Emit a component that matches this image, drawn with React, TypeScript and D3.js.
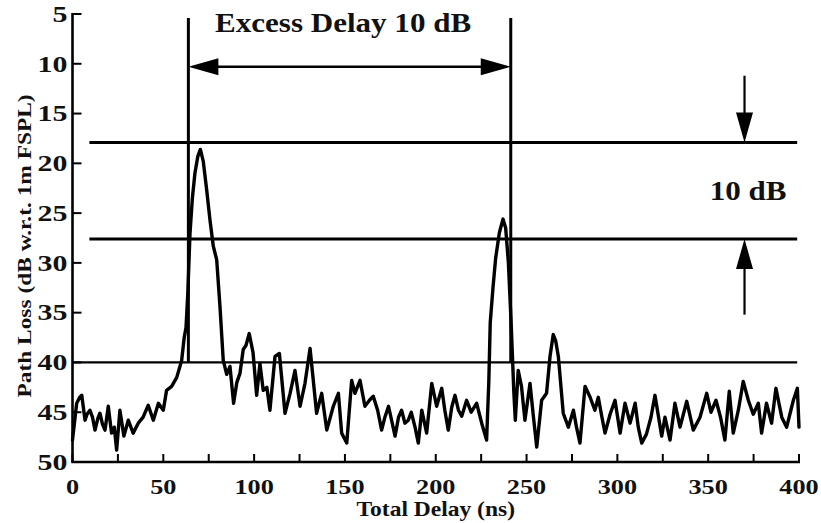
import React from "react";
import * as d3 from "d3";

const delays = [
  0, 2.3, 4, 5.1, 6.9, 8, 9.6, 11, 12.4, 14, 15.1, 16.5, 17.9, 19.7, 21.5, 23, 24.3, 26.1, 28.3, 30.7,
  33.4, 36.2, 38.9, 41.7, 44.5, 47.3, 50, 51.8, 54.6, 57.4, 60.1, 61.5, 62.5, 63.5, 64.7, 66, 67.4, 69,
  70.4, 72, 73.9, 75.7, 77.5, 79.4, 81.2, 83, 84.9, 86.7, 88.7, 90.5, 92.2, 94, 95.5, 97.3, 99.4, 101.4,
  103.2, 105, 107, 108.7, 111.5, 113.9, 117, 119.8, 122.5, 125.3, 128, 130.8, 134.4, 137.2, 140, 143.6,
  146.4, 148.2, 151, 153.7, 155.5, 158.3, 161, 163.5, 165.6, 168, 170.2, 172, 174, 177.6, 179.5, 181.2,
  183, 184.9, 186.5, 188.6, 190.4, 192.3, 195, 197.8, 200.5, 203.3, 205, 206.9, 208.8, 210.6, 212.5,
  214.3, 217, 219.5, 222.5, 225.3, 228, 229.2, 230, 231.5, 233, 235, 237, 238.5, 240, 241.5, 243, 243.8,
  245.4, 247.2, 249.1, 251.9, 253.8, 255.6, 258.3, 261, 262.9, 264.7, 266, 267.5, 270.2, 273, 275.8,
  277.5, 279.4, 282.2, 285, 287.6, 289.5, 291.5, 293.2, 296, 298.7, 301.5, 304.2, 307, 309.8, 311.5,
  313.4, 316, 318.5, 320.7, 324.4, 326.2, 329, 331.7, 334.5, 338.2, 341.8, 345.5, 349.2, 351.5, 354.3,
  356.8, 359.2, 361.6, 363.8, 366.6, 369.3, 372.1, 374.8, 377.6, 379.4, 382.1, 384.9, 387.3, 390.5,
  393.2, 396.9, 399.1, 400,
];
const pathLoss = [
  47.8, 44.1, 43.5, 43.3, 45.8, 45.2, 44.8, 45.5, 46.8, 45.6, 45.1, 46.2, 46.8, 44.4, 47.1, 46.5, 48.8,
  44.8, 47.4, 45.8, 47.1, 46.1, 45.5, 44.3, 45.8, 44.1, 44.8, 42.8, 42.4, 41.5, 39.8, 37.5, 36.5, 33,
  27, 23.5, 21, 19.3, 18.6, 19.8, 22.7, 25.7, 28.3, 29.7, 34.4, 39.8, 41.2, 40.4, 44.1, 42, 41.1, 38.7,
  38.3, 37.1, 39, 43.3, 40.1, 42.8, 42.5, 44.8, 39.4, 39.1, 45.1, 43.1, 40.8, 44.4, 42.1, 38.6, 45.1,
  43.1, 46.8, 44.4, 43.1, 47.1, 48.1, 41.8, 43.1, 41.8, 44.4, 43.8, 43.4, 44.8, 46.8, 45.5, 44.4, 47.4,
  45.5, 44.8, 46.1, 45.8, 45, 46.5, 48.1, 44.8, 47.1, 42.1, 44.4, 42.6, 44.8, 46.8, 44.5, 43.3, 44.8,
  45.4, 43.8, 45, 44.1, 46.1, 47.8, 42, 36, 32.5, 29.5, 27, 25.6, 26.5, 30, 36, 43, 45.8, 40.8, 42.4, 45.8,
  42.1, 45.5, 48.5, 43.8, 43.1, 39.4, 37.2, 37.8, 39.4, 45.1, 46.5, 44.8, 46.5, 48.1, 42.4, 43.5, 44.8,
  43.5, 45.5, 47.1, 45.2, 43.8, 47.1, 44.1, 46.1, 44.1, 46.5, 48.1, 47.2, 45.5, 43.3, 47.4, 45.5, 47.8,
  44.1, 46.5, 43.9, 46.8, 45.5, 43.1, 45, 43.8, 45.5, 47.8, 42.9, 47.1, 44.8, 41.9, 43.8, 45.2, 44.1,
  47.1, 44.1, 46.1, 42.6, 45.5, 46.5, 43.8, 42.6, 46.5,
];

const xTickValues = [0, 50, 100, 150, 200, 250, 300, 350, 400];
const xMinorTickValues = [0, 25, 50, 75, 100, 125, 150, 175, 200, 225, 250, 275, 300, 325, 350, 375, 400];
const yTickValues = [5, 10, 15, 20, 25, 30, 35, 40, 45, 50];

const peakLevel = 17.9;
const thresholdLevel = 27.6;
const noiseLevel = 40;
const thresholdLineStart = 9.3;
const lineEnd = 399;
const excessStart = 63.8;
const excessEnd = 241.3;
const markerTop = 5.4;
const excessArrowLevel = 10.3;
const dbArrowDelay = 370;
const dbArrowTop = 11.2;
const dbArrowBottom = 35.2;

const titleText = "Excess Delay 10 dB";
const dbText = "10 dB";
const xTitle = "Total Delay (ns)";
const yTitle = "Path Loss (dB w.r.t. 1m FSPL)";

export default function App() {
  const x = d3.scaleLinear().domain([0, 400]).range([72.5, 799]);
  const y = d3.scaleLinear().domain([5, 50]).range([14, 462]);
  const line = d3
    .line<number>()
    .x((_, i) => x(delays[i]))
    .y((d) => y(d));
  const font = "'Liberation Serif', 'Times New Roman', serif";

  const ah = 30; // arrowhead length
  const aw = 8.5; // arrowhead half width
  const ya = y(excessArrowLevel);
  const xl = x(excessStart);
  const xr = x(excessEnd);
  const xd = x(dbArrowDelay);
  const yUp = y(peakLevel);
  const yLow = y(thresholdLevel);

  return (
    <svg
      width={821}
      height={523}
      style={{ position: "absolute", left: 0, top: 0, background: "#fff" }}
      fontFamily={font}
      fontWeight="bold"
    >
      <rect width={821} height={523} fill="#fff" />
      {/* axes */}
      <line x1={x(0)} x2={x(0)} y1={y(5) - 1} y2={y(50)} stroke="#000" strokeWidth={2.6} />
      <line x1={x(0) - 1.3} x2={x(400) + 1} y1={y(50)} y2={y(50)} stroke="#000" strokeWidth={2.6} />
      {yTickValues.map((v) => (
        <g key={"y" + v}>
          <line x1={x(0)} x2={x(0) + 9} y1={y(v)} y2={y(v)} stroke="#000" strokeWidth={2} />
          <text
            transform={`translate(${x(0) - 5},${y(v)}) scale(1.3,1)`}
            textAnchor="end"
            dominantBaseline="central"
            fontSize={23}
            fill="#111"
          >
            {v}
          </text>
        </g>
      ))}
      {xMinorTickValues.map((v) => (
        <line key={"xm" + v} x1={x(v)} x2={x(v)} y1={y(50)} y2={y(50) - 8} stroke="#000" strokeWidth={2} />
      ))}
      {xTickValues.map((v) => (
        <text
          key={"x" + v}
          transform={`translate(${x(v)},${494}) scale(1.25,1)`}
          textAnchor="middle"
          fontSize={21}
          fill="#111"
        >
          {v}
        </text>
      ))}
      <text transform={`translate(${x(200)},516) scale(1.12,1)`} textAnchor="middle" fontSize={21} fill="#111">
        {xTitle}
      </text>
      <text
        transform={`translate(25,${y(28.3)}) rotate(-90) scale(1.3,1)`}
        textAnchor="middle"
        dominantBaseline="central"
        fontSize={18}
        fill="#111"
      >
        {yTitle}
      </text>

      {/* reference lines */}
      <line x1={x(thresholdLineStart)} x2={x(lineEnd)} y1={yUp} y2={yUp} stroke="#000" strokeWidth={3} />
      <line x1={x(thresholdLineStart)} x2={x(lineEnd)} y1={yLow} y2={yLow} stroke="#000" strokeWidth={3} />
      <line x1={x(0)} x2={x(lineEnd)} y1={y(noiseLevel)} y2={y(noiseLevel)} stroke="#000" strokeWidth={2.2} />
      <line x1={xl} x2={xl} y1={y(markerTop)} y2={y(noiseLevel)} stroke="#000" strokeWidth={3} />
      <line x1={xr} x2={xr} y1={y(markerTop)} y2={y(noiseLevel)} stroke="#000" strokeWidth={3} />

      {/* signal */}
      <path
        d={line(pathLoss) || ""}
        fill="none"
        stroke="#000"
        strokeWidth={3.4}
        strokeLinejoin="round"
        strokeLinecap="round"
      />

      {/* excess delay arrow */}
      <line x1={xl + ah - 2} x2={xr - ah + 2} y1={ya} y2={ya} stroke="#000" strokeWidth={2.4} />
      <path d={`M${xl},${ya} L${xl + ah},${ya - aw} L${xl + ah},${ya + aw} Z`} fill="#000" />
      <path d={`M${xr},${ya} L${xr - ah},${ya - aw} L${xr - ah},${ya + aw} Z`} fill="#000" />
      <text transform={`translate(${x(149)},32) scale(1.15,1)`} textAnchor="middle" fontSize={27} fill="#111">
        {titleText}
      </text>

      {/* 10 dB arrows */}
      <line x1={xd} x2={xd} y1={y(dbArrowTop)} y2={yUp - ah + 2} stroke="#000" strokeWidth={2.2} />
      <path d={`M${xd},${yUp} L${xd - aw},${yUp - ah} L${xd + aw},${yUp - ah} Z`} fill="#000" />
      <line x1={xd} x2={xd} y1={yLow + ah - 2} y2={y(dbArrowBottom)} stroke="#000" strokeWidth={2.2} />
      <path d={`M${xd},${yLow} L${xd - aw},${yLow + ah} L${xd + aw},${yLow + ah} Z`} fill="#000" />
      <text transform={`translate(${x(372)},200) scale(1.15,1)`} textAnchor="middle" fontSize={27} fill="#111">
        {dbText}
      </text>
    </svg>
  );
}
